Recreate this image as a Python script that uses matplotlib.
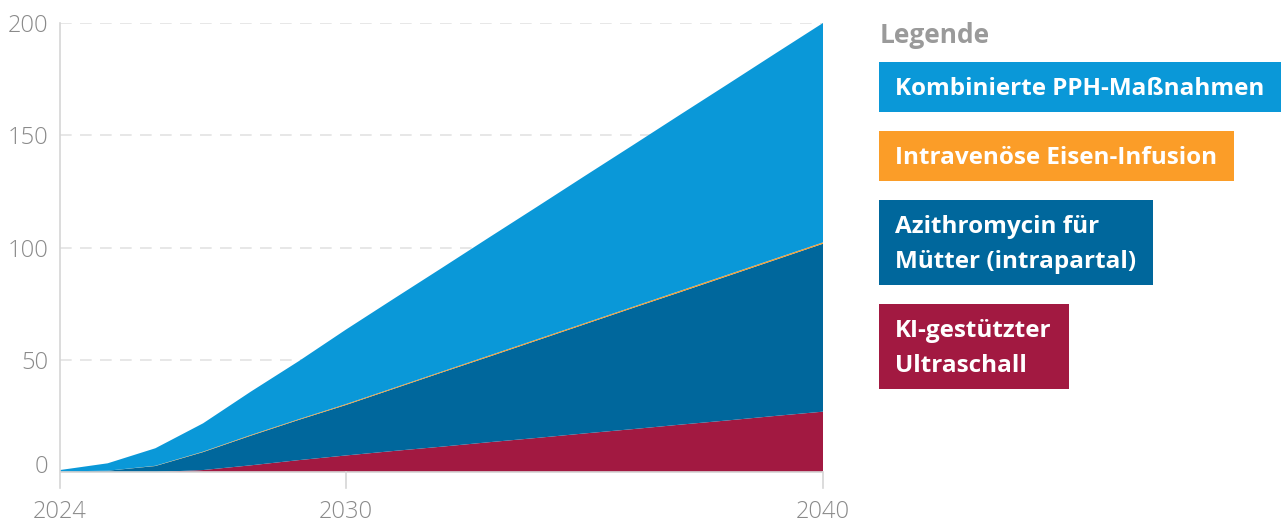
import matplotlib.pyplot as plt
from matplotlib.patches import Rectangle
from matplotlib.transforms import ScaledTranslation

W, H = 1283, 523

years = list(range(2024, 2041))
ki_ultraschall = [0, 0, 0, 0.9, 3.0, 5.3, 7.4, 9.4, 11.3, 13.3, 15.2, 17.2, 19.1, 21.1, 23.0, 25.0, 26.9]
azithromycin = [0.3, 0.6, 2.7, 8.0, 13.2, 17.9, 22.5, 27.7, 33.0, 38.1, 43.4, 48.6, 53.9, 59.0, 64.3, 69.5, 74.8]
eisen_infusion = [0, 0, 0.1, 0.2, 0.3, 0.3, 0.4, 0.4, 0.4, 0.5, 0.5, 0.5, 0.5, 0.6, 0.6, 0.6, 0.6]
kombiniert = [0.6, 3.3, 7.8, 12.6, 19.3, 25.8, 33.2, 39.7, 46.1, 52.6, 59.0, 65.5, 71.9, 78.4, 84.8, 91.3, 97.7]

x_ticks = [2024, 2030, 2040]
y_ticks = [0, 50, 100, 150, 200]

legend_labels = ["Kombinierte PPH-Maßnahmen", "Intravenöse Eisen-Infusion",
                 "Azithromycin für\nMütter (intrapartal)", "KI-gestützter\nUltraschall"]
farben = {"kombi": "#0A98D8", "eisen": "#FB9D28", "azi": "#00679C", "ki": "#A21941"}
legend_colors = [farben["kombi"], farben["eisen"], farben["azi"], farben["ki"]]

plt.rcParams['font.family'] = ['Open Sans', 'DejaVu Sans']

fig = plt.figure(figsize=(W / 100, H / 100), dpi=100)
# Achsenbereich in Pixeln: x 60..823, y 23..488
ax = fig.add_axes([60 / W, 1 - 488 / H, (823 - 60) / W, (488 - 23) / H])

ax.stackplot(years, ki_ultraschall, azithromycin, eisen_infusion, kombiniert,
             colors=[farben["ki"], farben["azi"], farben["eisen"], farben["kombi"]],
             linewidth=0, zorder=2)

ax.set_xlim(2024, 2040)
ax.set_ylim(-7.1, 200)

for v in y_ticks[1:]:
    ax.axhline(v, color="#e3e3e3", lw=1.2, dashes=(7, 5), zorder=1)
ax.axhline(0, color="#d6d6d6", lw=1.2, zorder=3)

for s in ["top", "right", "bottom"]:
    ax.spines[s].set_visible(False)
ax.spines["left"].set_color("#d6d6d6")
ax.spines["left"].set_linewidth(1.2)

ax.set_xticks(x_ticks)
ax.set_xticklabels([str(t) for t in x_ticks])
ax.set_yticks(y_ticks)
ax.set_yticklabels([str(t) for t in y_ticks])
ax.tick_params(axis="y", length=0, pad=8.5, labelsize=17, labelcolor="#8a8a8a")
ax.tick_params(axis="x", length=0, pad=9, labelsize=17, labelcolor="#8a8a8a")
for lbl in ax.get_xticklabels() + ax.get_yticklabels():
    lbl.set_fontweight("light")

# die "0" sitzt etwas oberhalb der Nulllinie
null_lbl = ax.get_yticklabels()[0]
null_lbl.set_transform(null_lbl.get_transform() + ScaledTranslation(0, 8 / 100, fig.dpi_scale_trans))

# Tickstriche unter der Nulllinie
for t in x_ticks[1:]:
    ax.plot([t, t], [-7.1, 0], color="#d6d6d6", lw=1.2, clip_on=False, zorder=3)


def px(x, y):
    return x / W, 1 - y / H


fig.text(*px(880, 43), "Legende", fontsize=19, fontweight="bold", color="#9a9a9a", va="baseline")

renderer = fig.canvas.get_renderer()
top = 62
for label, col in zip(legend_labels, legend_colors):
    lines = label.split("\n")
    height = 50 if len(lines) == 1 else 85
    right = 0
    for i, line in enumerate(lines):
        t = fig.text(*px(895, top + 33 + i * 35), line, fontsize=17.5, fontweight="bold",
                     color="white", va="baseline", zorder=3)
        bb = t.get_window_extent(renderer)
        right = max(right, bb.x1)
    x0, y0 = px(879, top + height)
    fig.patches.append(Rectangle((x0, y0), (right + 17 - 879) / W, height / H,
                                 transform=fig.transFigure, facecolor=col,
                                 edgecolor="none", zorder=1))
    top += height + 19

fig.savefig("out.png", dpi=100)
